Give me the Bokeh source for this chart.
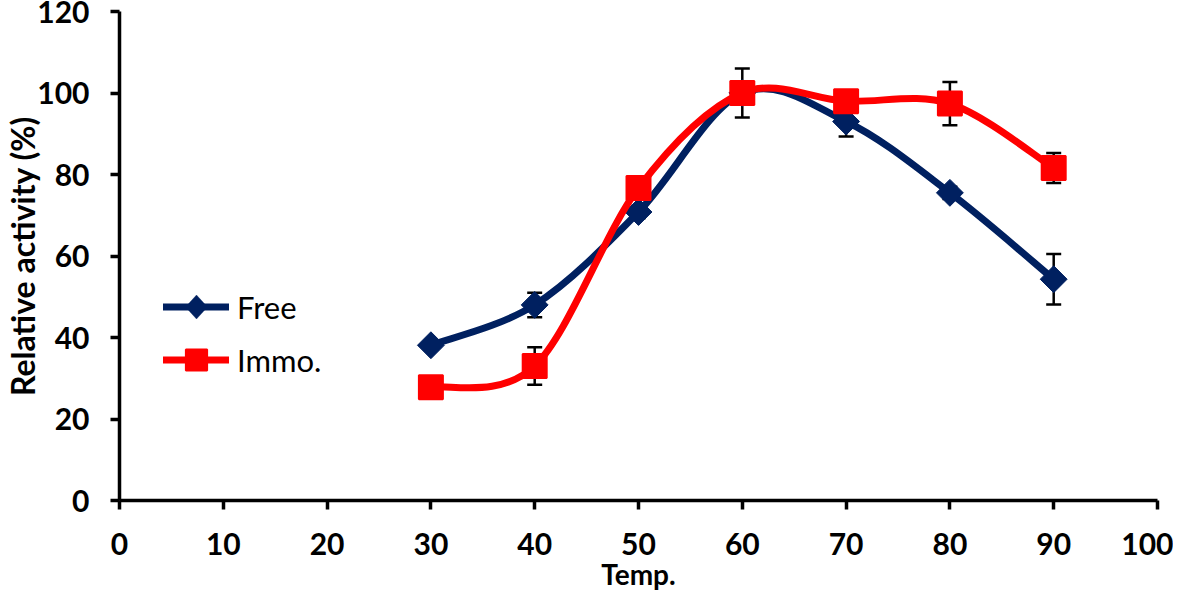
import numpy as np
from bokeh.plotting import figure
from bokeh.models import (Range1d, ColumnDataSource, Whisker, TeeHead, Legend, LegendItem,
                          FixedTicker, PolyAnnotation)
from bokeh.embed import file_html
from bokeh.resources import INLINE

temps = [30, 40, 50, 60, 70, 80, 90]
free_vals = [38.1, 48.0, 70.8, 100.0, 93.0, 75.5, 54.3]
free_err = [1.0, 3.0, 1.5, 1.5, 3.7, 1.5, 6.2]
immo_vals = [27.8, 33.0, 76.7, 100.0, 98.0, 97.4, 81.6]
immo_err = [1.0, 4.6, 1.5, 6.0, 1.5, 5.3, 3.7]
x_ticks = [0, 10, 20, 30, 40, 50, 60, 70, 80, 90, 100]
y_ticks = [0, 20, 40, 60, 80, 100, 120]
series_names = ["Free", "Immo."]
x_title = "Temp."
y_title = "Relative activity (%)"

FONT = "Lato"
FREE_COLOR = "#002060"
IMMO_COLOR = "#FF0000"

W, H = 1173, 595
p = figure(width=W, height=H, output_backend="svg", toolbar_location=None,
           x_range=Range1d(0, 100), y_range=Range1d(0, 120),
           min_border_left=118, min_border_right=16, min_border_top=11, min_border_bottom=95)
p.grid.visible = False
p.outline_line_color = None
p.background_fill_color = "white"

for ax in (p.xaxis[0], p.yaxis[0]):
    ax.axis_line_width = 3.5
    ax.axis_line_color = "black"
    ax.major_tick_line_width = 3.5
    ax.major_tick_line_color = "black"
    ax.major_tick_out = 9
    ax.major_tick_in = 0
    ax.minor_tick_line_color = None
    ax.major_label_text_font = FONT
    ax.major_label_text_font_style = "bold"
    ax.major_label_text_font_size = "30px"
    ax.major_label_text_color = "black"
    ax.axis_label_text_font = FONT
    ax.axis_label_text_font_style = "bold"
    ax.axis_label_text_color = "black"

p.xaxis.axis_label_text_font_size = "28px"
p.yaxis.axis_label_text_font_size = "32px"
p.xaxis.ticker = FixedTicker(ticks=x_ticks)
p.yaxis.ticker = FixedTicker(ticks=y_ticks)
p.xaxis.axis_label = x_title
p.yaxis.axis_label = y_title
p.xaxis.major_label_standoff = 23
p.yaxis.major_label_standoff = 21
p.xaxis.axis_label_standoff = -1
p.yaxis.axis_label_standoff = -8


def bezier_source(xs, ys):
    x = np.asarray(xs, float)
    y = np.asarray(ys, float)
    n = len(x)
    x0, y0, x1, y1, cx0, cy0, cx1, cy1 = [], [], [], [], [], [], [], []
    for i in range(n - 1):
        ip = max(i - 1, 0)
        inx = min(i + 2, n - 1)
        x0.append(x[i]); y0.append(y[i])
        x1.append(x[i + 1]); y1.append(y[i + 1])
        cx0.append(x[i] + (x[i + 1] - x[ip]) / 6.0)
        cy0.append(y[i] + (y[i + 1] - y[ip]) / 6.0)
        cx1.append(x[i + 1] - (x[inx] - x[i]) / 6.0)
        cy1.append(y[i + 1] - (y[inx] - y[i]) / 6.0)
    return ColumnDataSource(dict(x0=x0, y0=y0, x1=x1, y1=y1, cx0=cx0, cy0=cy0, cx1=cx1, cy1=cy1))


def err_source(xs, ys, es):
    return ColumnDataSource(dict(x=xs, lo=[v - e for v, e in zip(ys, es)],
                                 hi=[v + e for v, e in zip(ys, es)]))


for vals, errs in ((free_vals, free_err), (immo_vals, immo_err)):
    w = Whisker(source=err_source(temps, vals, errs), base="x", lower="lo", upper="hi",
                line_color="black", line_width=2.5, level="underlay",
                upper_head=TeeHead(size=15, line_width=2.5, line_color="black"),
                lower_head=TeeHead(size=15, line_width=2.5, line_color="black"))
    p.add_layout(w)

free_line = p.bezier(x0="x0", y0="y0", x1="x1", y1="y1", cx0="cx0", cy0="cy0", cx1="cx1", cy1="cy1",
                     source=bezier_source(temps, free_vals), line_color=FREE_COLOR, line_width=7,
                     line_cap="round")
free_pts = p.scatter(temps, free_vals, marker="square", angle=np.pi / 4, size=19,
                     fill_color=FREE_COLOR, line_color=FREE_COLOR, line_width=1)
immo_line = p.bezier(x0="x0", y0="y0", x1="x1", y1="y1", cx0="cx0", cy0="cy0", cx1="cx1", cy1="cy1",
                     source=bezier_source(temps, immo_vals), line_color=IMMO_COLOR, line_width=7,
                     line_cap="round")
immo_pts = p.scatter(temps, immo_vals, marker="square", size=24,
                     fill_color=IMMO_COLOR, line_color=IMMO_COLOR, line_width=2)

# legend
LEG_X, LEG_Y, GW, GH = 44, 114, 66, 53
legend = Legend(items=[
    LegendItem(label=series_names[0], renderers=[free_line]),
    LegendItem(label=series_names[1], renderers=[immo_line, immo_pts]),
], location=(LEG_X, LEG_Y), orientation="vertical",
    glyph_width=GW, glyph_height=GH, spacing=0, padding=0, margin=0,
    label_text_font=FONT, label_text_font_size="31px", label_text_color="black",
    label_standoff=8, background_fill_alpha=0, border_line_color=None)
p.add_layout(legend)

# diamond marker for the "Free" legend entry (screen units, relative to frame)
cx = LEG_X + GW / 2
cy = LEG_Y + GH * 1.5
p.add_layout(PolyAnnotation(xs=[cx - 11, cx, cx + 11, cx], ys=[cy, cy + 12, cy, cy - 12],
                            xs_units="screen", ys_units="screen",
                            fill_color=FREE_COLOR, fill_alpha=1, line_color=FREE_COLOR, line_width=1))

open("out.html", "w").write(file_html(p, INLINE))
